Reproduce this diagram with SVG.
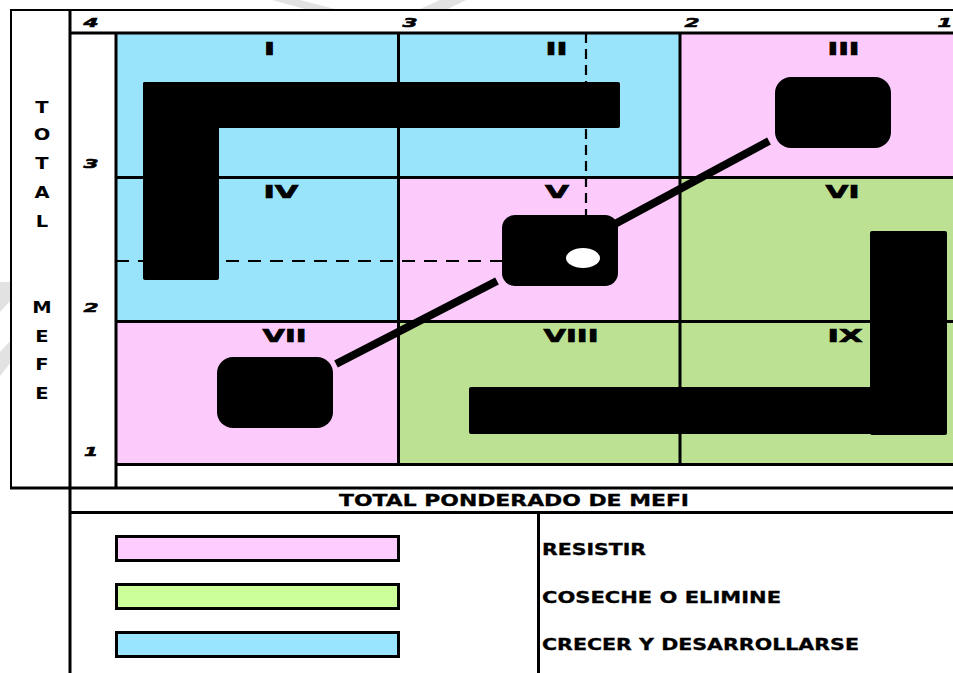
<svg xmlns="http://www.w3.org/2000/svg" width="953" height="673" viewBox="0 0 953 673">
<style>
.ln{stroke:#000;stroke-width:3;fill:none}
.thin{stroke:#000;stroke-width:2;fill:none}
.blue{fill:#9ae4fb}
.pink{fill:#fccbfc}
.green{fill:#bce193}
.blk{fill:#000}
.rom{font-family:"DejaVu Sans",sans-serif;font-weight:bold;font-size:18px;fill:#000;stroke:#000;stroke-width:0.7;text-anchor:middle}
.num{font-family:"DejaVu Sans",sans-serif;font-weight:bold;font-style:italic;font-size:13px;fill:#000;stroke:#000;stroke-width:0.6;text-anchor:middle}
.vl{font-family:"DejaVu Sans",sans-serif;font-weight:bold;font-size:15px;fill:#000;text-anchor:middle}
.lab{font-family:"DejaVu Sans",sans-serif;font-weight:bold;font-size:15px;fill:#000;stroke:#000;stroke-width:0.3}
.dash{stroke:#000;stroke-width:2.2;fill:none}
.wm{fill:#e2e2e2}
</style>
<rect x="0" y="0" width="953" height="673" fill="#fff"/>
<g id="watermark">
<polygon class="wm" points="272,0 300,0 335,9 305,9"/>
<polygon class="wm" points="440,0 466,0 448,9 420,9"/>
<polygon class="wm" points="0,282 10,282 11,300 0,312"/>
<polygon class="wm" points="0,352 11,340 11,362 0,376"/>
</g>
<g id="cells">
<rect id="cell-I" class="blue" x="116" y="33" width="282" height="144"/>
<rect id="cell-II" class="blue" x="398" y="33" width="282" height="144"/>
<rect id="cell-III" class="pink" x="680" y="33" width="273" height="144"/>
<rect id="cell-IV" class="blue" x="116" y="177" width="282" height="144"/>
<rect id="cell-V" class="pink" x="398" y="177" width="282" height="144"/>
<rect id="cell-VI" class="green" x="680" y="177" width="273" height="144"/>
<rect id="cell-VII" class="pink" x="116" y="321" width="282" height="143"/>
<rect id="cell-VIII" class="green" x="398" y="321" width="282" height="143"/>
<rect id="cell-IX" class="green" x="680" y="321" width="273" height="143"/>
</g>
<g id="frame">
<line class="thin" x1="10" y1="10" x2="953" y2="10"/>
<line class="thin" x1="11" y1="10" x2="11" y2="489"/>
<line class="ln" x1="70" y1="10" x2="70" y2="673"/>
<line class="ln" x1="116" y1="33" x2="116" y2="488"/>
<line class="ln" x1="70" y1="33" x2="953" y2="33"/>
<line class="ln" x1="398.5" y1="33" x2="398.5" y2="464"/>
<line class="ln" x1="680" y1="33" x2="680" y2="464"/>
<line class="ln" x1="116" y1="177.5" x2="953" y2="177.5"/>
<line class="ln" x1="116" y1="321.5" x2="953" y2="321.5"/>
<line class="ln" x1="116" y1="464.5" x2="953" y2="464.5"/>
<line class="ln" x1="10" y1="488" x2="953" y2="488"/>
<line class="ln" x1="70" y1="512.5" x2="953" y2="512.5"/>
<line class="ln" x1="538.5" y1="512" x2="538.5" y2="673"/>
</g>
<g id="guides">
<line class="dash" x1="586" y1="33" x2="586" y2="216" stroke-dasharray="10,6"/>
<line class="dash" x1="116" y1="261" x2="503" y2="261" stroke-dasharray="13,9"/>
</g>
<g id="bar-top-left">
<rect class="blk" x="143" y="82" width="477" height="46" rx="2"/>
<rect class="blk" x="143" y="82" width="76" height="198" rx="2"/>
</g>
<g id="bar-bottom-right">
<rect class="blk" x="469" y="387" width="478" height="47" rx="2"/>
<rect class="blk" x="870" y="231" width="77" height="204" rx="2"/>
</g>
<g id="connectors">
<line stroke="#000" stroke-width="8" x1="336" y1="364" x2="497" y2="281"/>
<line stroke="#000" stroke-width="8" x1="600" y1="232" x2="769" y2="141"/>
</g>
<g id="node-III">
<rect class="blk" x="775" y="77" width="116" height="71" rx="16"/>
</g>
<g id="node-V">
<rect class="blk" x="502" y="215" width="116" height="71" rx="13"/>
<ellipse cx="583" cy="258" rx="17" ry="10" fill="#fff"/>
</g>
<g id="node-VII">
<rect class="blk" x="217" y="357" width="116" height="71" rx="16"/>
</g>
<g id="roman-labels">
<text class="rom" x="269.5" y="55" textLength="11" lengthAdjust="spacingAndGlyphs">I</text>
<text class="rom" x="556.5" y="55" textLength="22" lengthAdjust="spacingAndGlyphs">II</text>
<text class="rom" x="843.5" y="55" textLength="32" lengthAdjust="spacingAndGlyphs">III</text>
<text class="rom" x="281" y="198" textLength="35" lengthAdjust="spacingAndGlyphs">IV</text>
<text class="rom" x="557" y="198" textLength="24" lengthAdjust="spacingAndGlyphs">V</text>
<text class="rom" x="842.5" y="198" textLength="34" lengthAdjust="spacingAndGlyphs">VI</text>
<text class="rom" x="284.5" y="342" textLength="44" lengthAdjust="spacingAndGlyphs">VII</text>
<text class="rom" x="571" y="342" textLength="55" lengthAdjust="spacingAndGlyphs">VIII</text>
<text class="rom" x="845" y="342" textLength="35" lengthAdjust="spacingAndGlyphs">IX</text>
</g>
<g id="axis-x">
<text class="num" x="91" y="27" textLength="15" lengthAdjust="spacingAndGlyphs">4</text>
<text class="num" x="410" y="27" textLength="15" lengthAdjust="spacingAndGlyphs">3</text>
<text class="num" x="692" y="27" textLength="15" lengthAdjust="spacingAndGlyphs">2</text>
<text class="num" x="945" y="27" textLength="15" lengthAdjust="spacingAndGlyphs">1</text>
</g>
<g id="axis-y">
<text class="num" x="91" y="168" textLength="15" lengthAdjust="spacingAndGlyphs">3</text>
<text class="num" x="91" y="312" textLength="15" lengthAdjust="spacingAndGlyphs">2</text>
<text class="num" x="91" y="456" textLength="14" lengthAdjust="spacingAndGlyphs">1</text>
</g>
<g id="axis-y-title" transform="translate(42,0) scale(1.3,1)">
<text class="vl" x="0" y="113">T</text>
<text class="vl" x="0" y="140">O</text>
<text class="vl" x="0" y="169">T</text>
<text class="vl" x="0" y="198">A</text>
<text class="vl" x="0" y="227">L</text>
<text class="vl" x="0" y="313">M</text>
<text class="vl" x="0" y="342">E</text>
<text class="vl" x="0" y="370">F</text>
<text class="vl" x="0" y="399">E</text>
</g>
<g id="axis-x-title">
<text class="lab" x="339" y="506" textLength="350" lengthAdjust="spacingAndGlyphs">TOTAL PONDERADO DE MEFI</text>
</g>
<g id="legend-resistir">
<rect x="116.5" y="536.5" width="282" height="24" fill="#ffccff" stroke="#000" stroke-width="3"/>
<text class="lab" x="542" y="555" textLength="104" lengthAdjust="spacingAndGlyphs">RESISTIR</text>
</g>
<g id="legend-coseche">
<rect x="116.5" y="584.5" width="282" height="24" fill="#ccff99" stroke="#000" stroke-width="3"/>
<text class="lab" x="542" y="603" textLength="239" lengthAdjust="spacingAndGlyphs">COSECHE O ELIMINE</text>
</g>
<g id="legend-crecer">
<rect x="116.5" y="632.5" width="282" height="24" fill="#99e5ff" stroke="#000" stroke-width="3"/>
<text class="lab" x="542" y="650" textLength="317" lengthAdjust="spacingAndGlyphs">CRECER Y DESARROLLARSE</text>
</g>
</svg>
